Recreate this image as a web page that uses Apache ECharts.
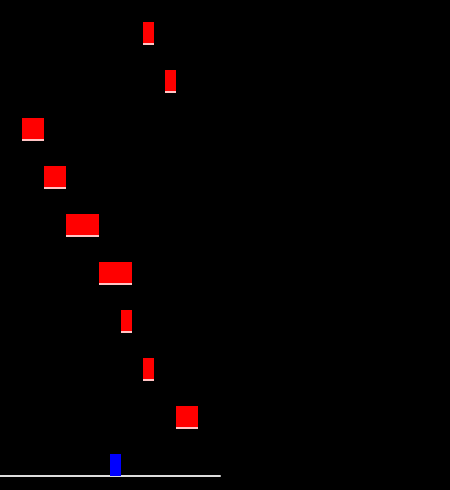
<!DOCTYPE html>
<html><head><meta charset="utf-8">
<script src="https://cdn.jsdelivr.net/npm/echarts@6/dist/echarts.min.js"></script>
<style>html,body{margin:0;padding:0;background:#000}#c{width:450px;height:490px}</style>
</head><body><div id="c"></div>
<script>
// Red floating bars (rows top to bottom), in x-axis units
const rows = ['r1','r2','r3','r4','r5','r6','r7','r8','r9'];
const barStart = [13, 15, 2, 4, 6, 9, 11, 13, 16];
const barLength = [1, 1, 2, 2, 3, 3, 1, 1, 2];
// Bottom strip: 20 slots, one blue bar
const slots = ['0','1','2','3','4','5','6','7','8','9','10','11','12','13','14','15','16','17','18','19'];
const blueValues = [null,null,null,null,null,null,null,null,null,null,1,null,null,null,null,null,null,null,null,null];

const chart = echarts.init(document.getElementById('c'), null, {renderer: 'canvas'});
chart.setOption({
  backgroundColor: '#000',
  animation: false,
  grid: [
    {left: 0, width: 220, top: 8.5, height: 432},
    {left: 0, width: 220, bottom: 14, height: 22}
  ],
  xAxis: [
    {gridIndex: 0, type: 'value', min: 0, max: 20, show: false},
    {gridIndex: 1, type: 'category', data: slots, boundaryGap: true,
     axisLine: {show: true, lineStyle: {color: '#dddddd', width: 2}},
     axisTick: {show: false}, axisLabel: {show: false}, splitLine: {show: false}}
  ],
  yAxis: [
    {gridIndex: 0, type: 'category', data: rows, inverse: true, show: false},
    {gridIndex: 1, type: 'value', min: 0, max: 1, show: false}
  ],
  series: [
    {type: 'bar', xAxisIndex: 0, yAxisIndex: 0, stack: 'w', data: barStart, barWidth: 21,
     itemStyle: {color: 'transparent'}, silent: true},
    {type: 'bar', xAxisIndex: 0, yAxisIndex: 0, stack: 'w', data: barLength, barWidth: 21,
     itemStyle: {color: '#ff0000', shadowColor: '#ffc4c4', shadowOffsetY: 2, shadowBlur: 0}},
    {type: 'bar', xAxisIndex: 1, yAxisIndex: 1, data: blueValues, barWidth: '100%',
     itemStyle: {color: '#0000ff'}}
  ]
});
</script></body></html>
